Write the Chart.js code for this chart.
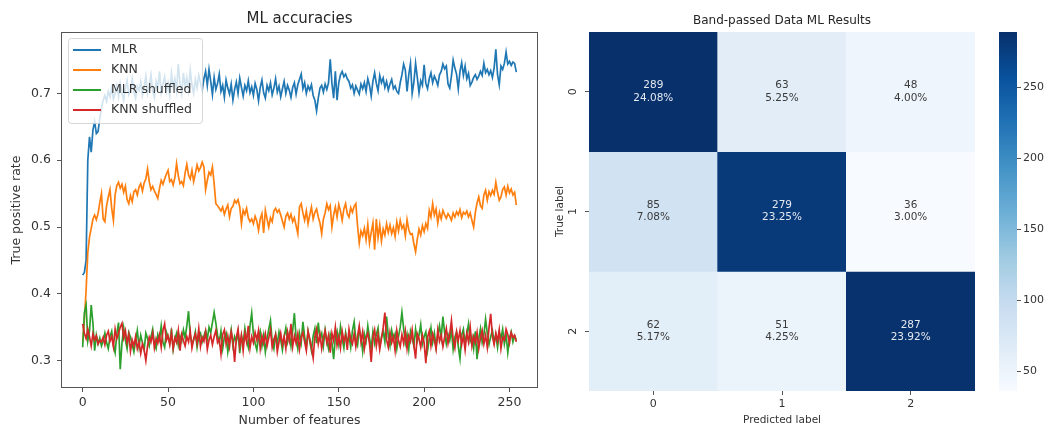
<!DOCTYPE html>
<html>
<head>
<meta charset="utf-8">
<script src="https://cdn.jsdelivr.net/npm/chart.js@4.4.1/dist/chart.umd.min.js"></script>
<style>
  html, body { margin: 0; padding: 0; background: #fff; }
  #wrap { position: relative; width: 1048px; height: 430px; overflow: hidden; }
  canvas { position: absolute; top: 0; }
  #lines { left: 0; }
  #heat { left: 540px; }
  #cbar { left: 990px; }
</style>
</head>
<body>
<div id="wrap">
  <canvas id="lines" width="542" height="430"></canvas>
  <canvas id="heat" width="455" height="430"></canvas>
  <canvas id="cbar" width="58" height="430"></canvas>
</div>
<script>
// ---- data: line chart (true positive rate vs number of features) ----
const mlr = [
  0.428, 0.432, 0.450, 0.600, 0.635, 0.612, 0.645, 0.658, 0.640, 0.643,
  0.662, 0.678, 0.690, 0.697, 0.688, 0.703, 0.695, 0.708, 0.692, 0.700,
  0.712, 0.696, 0.715, 0.701, 0.690, 0.707, 0.719, 0.698, 0.704, 0.722,
  0.702, 0.693, 0.711, 0.705, 0.718, 0.697, 0.709, 0.726, 0.700, 0.712,
  0.728, 0.704, 0.694, 0.718, 0.707, 0.733, 0.701, 0.714, 0.725, 0.703,
  0.716, 0.697, 0.730, 0.710, 0.722, 0.704, 0.744, 0.715, 0.700, 0.731,
  0.709, 0.724, 0.705, 0.735, 0.713, 0.700, 0.721, 0.708, 0.727, 0.716,
  0.705, 0.722, 0.733, 0.712, 0.736, 0.718, 0.698, 0.724, 0.706, 0.715,
  0.729, 0.703, 0.712, 0.694, 0.720, 0.708, 0.699, 0.714, 0.690, 0.706,
  0.717, 0.700, 0.723, 0.709, 0.696, 0.712, 0.704, 0.719, 0.701, 0.710,
  0.697, 0.715, 0.706, 0.689, 0.709, 0.720, 0.701, 0.693, 0.712, 0.704,
  0.716, 0.698, 0.708, 0.722, 0.702, 0.711, 0.695, 0.707, 0.718, 0.700,
  0.712, 0.705, 0.694, 0.709, 0.716, 0.699, 0.713, 0.721, 0.729, 0.707,
  0.716, 0.700, 0.711, 0.705, 0.713, 0.697, 0.690, 0.674, 0.693, 0.708,
  0.712, 0.702, 0.714, 0.706, 0.716, 0.751, 0.715, 0.693, 0.733, 0.690,
  0.716, 0.728, 0.733, 0.725, 0.729, 0.722, 0.718, 0.708, 0.713, 0.700,
  0.711, 0.705, 0.699, 0.714, 0.707, 0.716, 0.703, 0.722, 0.712, 0.696,
  0.718, 0.731, 0.715, 0.704, 0.727, 0.716, 0.723, 0.709, 0.718, 0.705,
  0.714, 0.721, 0.707, 0.711, 0.703, 0.700, 0.716, 0.728, 0.744, 0.735,
  0.703, 0.728, 0.745, 0.700, 0.717, 0.745, 0.724, 0.701, 0.719, 0.712,
  0.743, 0.715, 0.707, 0.722, 0.731, 0.716, 0.726, 0.720, 0.712, 0.728,
  0.733, 0.744, 0.737, 0.741, 0.714, 0.708, 0.726, 0.750, 0.738, 0.729,
  0.707, 0.733, 0.746, 0.727, 0.741, 0.722, 0.730, 0.712, 0.717, 0.724,
  0.728, 0.721, 0.726, 0.733, 0.727, 0.745, 0.731, 0.736, 0.728, 0.734,
  0.724, 0.738, 0.766, 0.728, 0.713, 0.741, 0.736, 0.745, 0.762, 0.744,
  0.748, 0.742, 0.747, 0.745, 0.732
];
const knn = [
  0.328, 0.362, 0.405, 0.462, 0.485, 0.498, 0.512, 0.518, 0.511, 0.520,
  0.536, 0.550, 0.512, 0.508, 0.532, 0.545, 0.556, 0.528, 0.510, 0.548,
  0.562, 0.567, 0.558, 0.564, 0.552, 0.561, 0.541, 0.535, 0.547, 0.538,
  0.553, 0.556, 0.548, 0.560, 0.565, 0.554, 0.566, 0.572, 0.587, 0.568,
  0.556, 0.561, 0.554, 0.549, 0.543, 0.558, 0.570, 0.564, 0.572, 0.579,
  0.585, 0.568, 0.571, 0.563, 0.574, 0.595, 0.577, 0.565, 0.568, 0.562,
  0.581, 0.594, 0.578, 0.572, 0.585, 0.568, 0.580, 0.593, 0.584, 0.589,
  0.597, 0.590, 0.556, 0.570, 0.582, 0.578, 0.590, 0.565, 0.535, 0.532,
  0.528, 0.524, 0.530, 0.519, 0.527, 0.533, 0.515, 0.528, 0.531, 0.540,
  0.536, 0.541, 0.530, 0.505, 0.525, 0.519, 0.528, 0.514, 0.508, 0.512,
  0.505, 0.516, 0.509, 0.495, 0.512, 0.520, 0.491, 0.525, 0.512, 0.500,
  0.514, 0.508, 0.524, 0.528, 0.522, 0.526, 0.518, 0.509, 0.500, 0.516,
  0.521, 0.512, 0.519, 0.508, 0.514, 0.502, 0.490, 0.530, 0.535, 0.521,
  0.510, 0.524, 0.505, 0.518, 0.530, 0.512, 0.522, 0.527, 0.515, 0.506,
  0.490, 0.512, 0.521, 0.535, 0.526, 0.532, 0.500, 0.518, 0.530, 0.515,
  0.534, 0.524, 0.510, 0.527, 0.535, 0.520, 0.515, 0.529, 0.522, 0.531,
  0.535, 0.502, 0.476, 0.494, 0.487, 0.498, 0.481, 0.504, 0.476, 0.492,
  0.506, 0.466, 0.512, 0.484, 0.503, 0.479, 0.497, 0.488, 0.505, 0.492,
  0.503, 0.490, 0.499, 0.486, 0.508, 0.494, 0.510, 0.498, 0.503, 0.487,
  0.511, 0.496, 0.489, 0.490, 0.475, 0.463, 0.482, 0.497, 0.488, 0.502,
  0.493, 0.505, 0.498, 0.525, 0.515, 0.535, 0.518, 0.527, 0.506, 0.522,
  0.512, 0.525, 0.518, 0.513, 0.520, 0.516, 0.510, 0.521, 0.515, 0.523,
  0.518, 0.526, 0.514, 0.522, 0.519, 0.524, 0.515, 0.521, 0.510, 0.500,
  0.522, 0.536, 0.545, 0.532, 0.528, 0.548, 0.555, 0.540, 0.553, 0.547,
  0.555, 0.549, 0.567, 0.552, 0.540, 0.545, 0.556, 0.560, 0.548, 0.561,
  0.551, 0.557, 0.548, 0.552, 0.533
];
const mlrShuffled = [
  0.320, 0.372, 0.383, 0.330, 0.345, 0.383, 0.356, 0.315, 0.338, 0.325,
  0.334, 0.322, 0.329, 0.341, 0.327, 0.318, 0.336, 0.344, 0.323, 0.312,
  0.340, 0.357, 0.287, 0.326, 0.349, 0.331, 0.318, 0.342, 0.335, 0.324,
  0.313, 0.330, 0.345, 0.321, 0.338, 0.327, 0.316, 0.341, 0.333, 0.322,
  0.336, 0.347, 0.325, 0.318, 0.339, 0.331, 0.352, 0.328, 0.320, 0.343,
  0.335, 0.326, 0.348, 0.317, 0.332, 0.341, 0.323, 0.337, 0.329, 0.346,
  0.334, 0.352, 0.374, 0.338, 0.325, 0.331, 0.343, 0.320, 0.336, 0.341,
  0.328, 0.337, 0.345, 0.332, 0.350, 0.342, 0.357, 0.372, 0.356, 0.338,
  0.327, 0.344, 0.318, 0.335, 0.341, 0.313, 0.330, 0.346, 0.322, 0.336,
  0.329, 0.343, 0.311, 0.337, 0.325, 0.348, 0.331, 0.320, 0.352, 0.371,
  0.340, 0.326, 0.316, 0.335, 0.344, 0.322, 0.338, 0.313, 0.333, 0.347,
  0.360, 0.329, 0.318, 0.339, 0.325, 0.343, 0.331, 0.316, 0.336, 0.349,
  0.328, 0.340, 0.322, 0.345, 0.371, 0.334, 0.318, 0.341, 0.327, 0.358,
  0.336, 0.320, 0.344, 0.329, 0.315, 0.337, 0.348, 0.326, 0.357, 0.333,
  0.341, 0.322, 0.346, 0.330, 0.318, 0.339, 0.327, 0.302, 0.335, 0.344,
  0.325, 0.351, 0.333, 0.319, 0.342, 0.328, 0.337, 0.320, 0.345, 0.358,
  0.331, 0.323, 0.347, 0.336, 0.314, 0.340, 0.329, 0.352, 0.334, 0.318,
  0.343, 0.326, 0.339, 0.349, 0.321, 0.335, 0.344, 0.328, 0.366, 0.337,
  0.322, 0.345, 0.331, 0.340, 0.318, 0.336, 0.350, 0.372, 0.348, 0.326,
  0.339, 0.317, 0.344, 0.333, 0.322, 0.347, 0.329, 0.338, 0.354, 0.325,
  0.336, 0.343, 0.315, 0.332, 0.349, 0.327, 0.341, 0.320, 0.338, 0.352,
  0.334, 0.366, 0.342, 0.325, 0.339, 0.330, 0.346, 0.317, 0.335, 0.343,
  0.321, 0.303, 0.338, 0.347, 0.326, 0.340, 0.355, 0.329, 0.336, 0.318,
  0.344, 0.302, 0.333, 0.348, 0.327, 0.339, 0.362, 0.341, 0.324, 0.336,
  0.345, 0.328, 0.338, 0.320, 0.342, 0.333, 0.347, 0.325, 0.339, 0.312,
  0.334, 0.343, 0.328, 0.337, 0.331
];
const knnShuffled = [
  0.355, 0.341, 0.333, 0.347, 0.336, 0.322, 0.340, 0.331, 0.337, 0.325,
  0.330, 0.328, 0.335, 0.324, 0.338, 0.344, 0.329, 0.336, 0.321, 0.347,
  0.333, 0.341, 0.350, 0.356, 0.334, 0.345, 0.327, 0.339, 0.314, 0.331,
  0.322, 0.336, 0.318, 0.328, 0.311, 0.325, 0.316, 0.300, 0.322, 0.335,
  0.328, 0.341, 0.319, 0.333, 0.326, 0.338, 0.320, 0.345, 0.355, 0.330,
  0.337, 0.324, 0.342, 0.318, 0.334, 0.327, 0.345, 0.315, 0.339, 0.330,
  0.322, 0.336, 0.328, 0.344, 0.319, 0.332, 0.340, 0.326, 0.348, 0.321,
  0.335, 0.329, 0.343, 0.317, 0.331, 0.338, 0.324, 0.336, 0.345, 0.327,
  0.332, 0.310, 0.339, 0.346, 0.325, 0.337, 0.321, 0.343, 0.330, 0.298,
  0.334, 0.347, 0.322, 0.338, 0.315, 0.341, 0.328, 0.352, 0.319, 0.336,
  0.327, 0.342, 0.331, 0.345, 0.318, 0.337, 0.326, 0.340, 0.322, 0.334,
  0.346, 0.320, 0.332, 0.339, 0.313, 0.328, 0.341, 0.324, 0.336, 0.318,
  0.343, 0.330, 0.355, 0.321, 0.337, 0.326, 0.340, 0.317, 0.335, 0.342,
  0.328, 0.315, 0.344, 0.333, 0.320, 0.304, 0.336, 0.347, 0.325, 0.339,
  0.318, 0.334, 0.345, 0.327, 0.338, 0.312, 0.341, 0.330, 0.350, 0.323,
  0.336, 0.319, 0.344, 0.329, 0.338, 0.316, 0.347, 0.332, 0.325, 0.340,
  0.321, 0.337, 0.352, 0.328, 0.343, 0.318, 0.334, 0.341, 0.326, 0.298,
  0.335, 0.346, 0.322, 0.339, 0.317, 0.333, 0.349, 0.372, 0.331, 0.320,
  0.342, 0.327, 0.336, 0.315, 0.345, 0.330, 0.321, 0.339, 0.326, 0.344,
  0.318, 0.337, 0.329, 0.346, 0.323, 0.303, 0.340, 0.333, 0.320, 0.338,
  0.327, 0.296, 0.335, 0.344, 0.322, 0.340, 0.331, 0.317, 0.346, 0.329,
  0.338, 0.321, 0.335, 0.348, 0.326, 0.340, 0.360, 0.332, 0.319, 0.343,
  0.330, 0.345, 0.324, 0.337, 0.316, 0.341, 0.328, 0.350, 0.322, 0.336,
  0.327, 0.342, 0.318, 0.334, 0.345, 0.325, 0.338, 0.320, 0.349, 0.370,
  0.336, 0.324, 0.341, 0.329, 0.346, 0.318, 0.335, 0.331, 0.347, 0.339,
  0.326, 0.342, 0.335, 0.338, 0.328
];
const seriesNames = ['MLR', 'KNN', 'MLR shuffled', 'KNN shuffled'];
const xTicks = [0, 50, 100, 150, 200, 250];
const yTicks = [0.3, 0.4, 0.5, 0.6, 0.7];

// ---- data: confusion matrix ----
const trueLabels = ['0', '1', '2'];
const predLabels = ['0', '1', '2'];
const counts = [
  [289, 63, 48],
  [85, 279, 36],
  [62, 51, 287]
];
const cbarTicks = [50, 100, 150, 200, 250];

// ---- styling helpers ----
const FONT = '"DejaVu Sans", sans-serif';
const TXT = '#333';
const TITLE_TXT = '#262626';
const SPINE = '#555';
const COLORS = ['#1f77b4', '#ff7f0e', '#2ca02c', '#d62728'];
const BLUES = ['#f7fbff', '#deebf7', '#c6dbef', '#9ecae1', '#6baed6', '#4292c6', '#2171b5', '#08519c', '#08306b'];

function hexRgb(h) {
  return [parseInt(h.slice(1, 3), 16), parseInt(h.slice(3, 5), 16), parseInt(h.slice(5, 7), 16)];
}
function blues(t) {
  t = Math.max(0, Math.min(1, t));
  const p = t * (BLUES.length - 1);
  const i = Math.min(Math.floor(p), BLUES.length - 2);
  const f = p - i;
  const a = hexRgb(BLUES[i]), b = hexRgb(BLUES[i + 1]);
  const c = a.map((v, k) => Math.round(v + (b[k] - v) * f));
  return `rgb(${c[0]},${c[1]},${c[2]})`;
}

const allCounts = counts.flat();
const vmin = Math.min(...allCounts);
const vmax = Math.max(...allCounts);
const total = allCounts.reduce((s, v) => s + v, 0);

// title drawn over the plot area like matplotlib does
function titlePlugin(text, size, y) {
  return {
    id: 'plotTitle',
    afterDraw(chart) {
      const { ctx, chartArea } = chart;
      ctx.save();
      ctx.font = `${size}px ${FONT}`;
      ctx.fillStyle = TITLE_TXT;
      ctx.textAlign = 'center';
      ctx.textBaseline = 'middle';
      ctx.fillText(text, (chartArea.left + chartArea.right) / 2, y);
      ctx.restore();
    }
  };
}

// full box of spines
const framePlugin = {
  id: 'frame',
  afterDatasetsDraw(chart) {
    const { ctx, chartArea: a } = chart;
    ctx.save();
    ctx.strokeStyle = SPINE;
    ctx.lineWidth = 1;
    ctx.strokeRect(Math.round(a.left) + 0.5, Math.round(a.top) + 0.5,
      Math.round(a.right - a.left) - 1, Math.round(a.bottom - a.top) - 1);
    ctx.restore();
  }
};

// legend box in the upper left corner
const legendPlugin = {
  id: 'innerLegend',
  afterDraw(chart) {
    const { ctx, chartArea: a } = chart;
    const x0 = a.left + 7, y0 = a.top + 6;
    ctx.save();
    ctx.beginPath();
    ctx.roundRect(x0 + 0.5, y0 + 0.5, 134, 85, 3);
    ctx.fillStyle = 'rgba(255,255,255,0.8)';
    ctx.fill();
    ctx.strokeStyle = 'rgba(204,204,204,0.8)';
    ctx.lineWidth = 1;
    ctx.stroke();
    ctx.font = `12.5px ${FONT}`;
    ctx.textBaseline = 'middle';
    ctx.textAlign = 'left';
    seriesNames.forEach((name, i) => {
      const y = y0 + 12 + i * 20;
      ctx.strokeStyle = COLORS[i];
      ctx.lineWidth = 2;
      ctx.beginPath();
      ctx.moveTo(x0 + 5, y);
      ctx.lineTo(x0 + 33, y);
      ctx.stroke();
      ctx.fillStyle = TXT;
      ctx.fillText(name, x0 + 43, y);
    });
    ctx.restore();
  }
};

function lineSet(i, values) {
  return {
    label: seriesNames[i],
    data: values.map((v, k) => ({ x: k, y: v })),
    borderColor: COLORS[i],
    backgroundColor: COLORS[i],
    borderWidth: 1.7,
    pointRadius: 0,
    tension: 0,
    order: 3 - i
  };
}

const tickFont = { family: FONT, size: 12.5 };

new Chart(document.getElementById('lines'), {
  type: 'line',
  data: {
    datasets: [lineSet(0, mlr), lineSet(1, knn), lineSet(2, mlrShuffled), lineSet(3, knnShuffled)]
  },
  options: {
    responsive: false,
    animation: false,
    devicePixelRatio: 1,
    layout: { padding: { top: 32, right: 4, left: 0, bottom: 0 } },
    plugins: { legend: { display: false }, tooltip: { enabled: false } },
    scales: {
      x: {
        type: 'linear',
        min: -12.7,
        max: 266.7,
        afterBuildTicks: s => { s.ticks = xTicks.map(v => ({ value: v })); },
        afterFit: s => { s.height = 42; },
        grid: { drawOnChartArea: false, drawTicks: true, tickLength: 4, color: SPINE },
        border: { display: false },
        ticks: { font: tickFont, color: TXT, padding: 3, maxRotation: 0, callback: v => String(v) },
        title: { display: true, text: 'Number of features', font: tickFont, color: TXT, padding: { top: 0, bottom: 1.5 } }
      },
      y: {
        min: 0.259,
        max: 0.792,
        afterBuildTicks: s => { s.ticks = yTicks.map(v => ({ value: v })); },
        afterFit: s => { s.width = 61; },
        grid: { drawOnChartArea: false, drawTicks: true, tickLength: 4, color: SPINE },
        border: { display: false },
        ticks: { font: tickFont, color: TXT, padding: 6, callback: v => v.toFixed(1) },
        title: { display: true, text: 'True positive rate', font: tickFont, color: TXT, padding: { top: 9.5, bottom: 0 } }
      }
    }
  },
  plugins: [framePlugin, legendPlugin, titlePlugin('ML accuracies', 15, 19)]
});

// ---- confusion matrix as stacked unit bars coloured by count ----
const smallFont = { family: FONT, size: 10.5 };

const annotPlugin = {
  id: 'annot',
  afterDatasetsDraw(chart) {
    const { ctx } = chart;
    ctx.save();
    ctx.font = `10.5px ${FONT}`;
    ctx.textAlign = 'center';
    ctx.textBaseline = 'middle';
    counts.forEach((row, r) => {
      const meta = chart.getDatasetMeta(r);
      row.forEach((v, c) => {
        const el = meta.data[c];
        const cx = el.x;
        const cy = (el.y + el.base) / 2;
        const t = (v - vmin) / (vmax - vmin);
        ctx.fillStyle = t > 0.6 ? '#e4e8ef' : '#3a3a3a';
        ctx.fillText(String(v), cx, cy - 6.3);
        ctx.fillText((v / total * 100).toFixed(2) + '%', cx, cy + 6);
      });
    });
    // rotated row tick labels
    const ys = chart.scales.y;
    ctx.fillStyle = TXT;
    ctx.font = `11px ${FONT}`;
    trueLabels.forEach((lab, r) => {
      ctx.save();
      ctx.translate(ys.right - 16, ys.getPixelForValue(r + 0.5));
      ctx.rotate(-Math.PI / 2);
      ctx.fillText(lab, 0, 0);
      ctx.restore();
    });
    ctx.restore();
  }
};

new Chart(document.getElementById('heat'), {
  type: 'bar',
  data: {
    labels: predLabels,
    datasets: counts.map((row, r) => ({
      label: trueLabels[r],
      data: row.map(() => 1),
      backgroundColor: row.map(v => blues((v - vmin) / (vmax - vmin))),
      borderWidth: 0,
      barPercentage: 1,
      categoryPercentage: 1
    }))
  },
  options: {
    responsive: false,
    animation: false,
    devicePixelRatio: 1,
    layout: { padding: { top: 32, right: 20, left: 0, bottom: 0 } },
    plugins: { legend: { display: false }, tooltip: { enabled: false } },
    scales: {
      x: {
        stacked: true,
        afterFit: s => { s.height = 39; },
        grid: { offset: false, drawOnChartArea: false, drawTicks: true, tickLength: 4, color: SPINE },
        border: { display: false },
        ticks: { font: { family: FONT, size: 11 }, color: TXT, padding: 3, maxRotation: 0 },
        title: { display: true, text: 'Predicted label', font: smallFont, color: TXT, padding: { top: 0, bottom: 3.7 } }
      },
      y: {
        type: 'linear',
        stacked: true,
        reverse: true,
        min: 0,
        max: 3,
        afterBuildTicks: s => { s.ticks = trueLabels.map((_, r) => ({ value: r + 0.5 })); },
        afterFit: s => { s.width = 49; },
        grid: { drawOnChartArea: false, drawTicks: true, tickLength: 4, color: SPINE },
        border: { display: false },
        ticks: { display: false },
        title: { display: true, text: 'True label', font: smallFont, color: TXT, padding: { top: 13.7, bottom: 0 } }
      }
    }
  },
  plugins: [annotPlugin, titlePlugin('Band-passed Data ML Results', 12, 21)]
});

// ---- colour bar ----
new Chart(document.getElementById('cbar'), {
  type: 'bar',
  data: {
    labels: [''],
    datasets: [{
      data: [[vmin, vmax]],
      backgroundColor: context => {
        const { ctx, chartArea } = context.chart;
        if (!chartArea) return BLUES[4];
        const g = ctx.createLinearGradient(0, chartArea.bottom, 0, chartArea.top);
        BLUES.forEach((c, i) => g.addColorStop(i / (BLUES.length - 1), c));
        return g;
      },
      borderWidth: 0,
      barPercentage: 1,
      categoryPercentage: 1
    }]
  },
  options: {
    responsive: false,
    animation: false,
    devicePixelRatio: 1,
    layout: { padding: { top: 32, right: 0, left: 9, bottom: 39 } },
    plugins: { legend: { display: false }, tooltip: { enabled: false } },
    scales: {
      x: { display: false },
      y: {
        position: 'right',
        min: vmin,
        max: vmax,
        afterBuildTicks: s => { s.ticks = cbarTicks.map(v => ({ value: v })); },
        afterFit: s => { s.width = 31; },
        grid: { drawOnChartArea: false, drawTicks: true, tickLength: 4, color: SPINE },
        border: { display: false },
        ticks: { font: { family: FONT, size: 11 }, color: TXT, padding: 2 }
      }
    }
  }
});
</script>
</body>
</html>
